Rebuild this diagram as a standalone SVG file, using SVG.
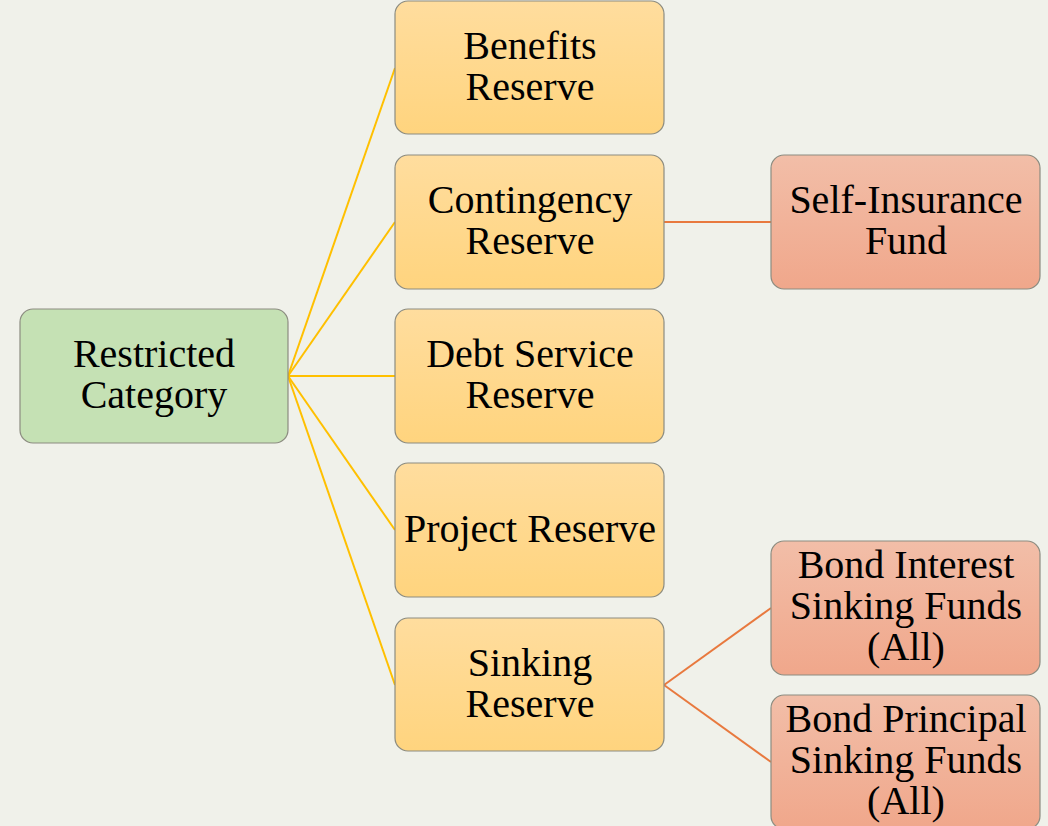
<svg xmlns="http://www.w3.org/2000/svg" width="1048" height="826" viewBox="0 0 1048 826">
<defs>
<linearGradient id="gOr" x1="0" y1="0" x2="0" y2="1"><stop offset="0" stop-color="#FFDD9E"/><stop offset="1" stop-color="#FFD47E"/></linearGradient>
<linearGradient id="gRd" x1="0" y1="0" x2="0" y2="1"><stop offset="0" stop-color="#F2BEA8"/><stop offset="1" stop-color="#F0A78B"/></linearGradient>
<style>
.box{stroke:#8C8C80;stroke-width:1.2}
.gr{fill:#C5E1B4}
.or{fill:url(#gOr)}
.rd{fill:url(#gRd)}
.t{font-size:40px;fill:#000;text-anchor:middle}
.cy{stroke:#FFC000;stroke-width:2;fill:none}
.co{stroke:#E8793E;stroke-width:2;fill:none}
</style>
</defs>
<rect width="1048" height="826" fill="#F0F1EA"/>
<g id="connectors">
<line class="cy" x1="288" y1="376" x2="395" y2="68"/>
<line class="cy" x1="288" y1="376" x2="395" y2="222"/>
<line class="cy" x1="288" y1="376" x2="395" y2="376"/>
<line class="cy" x1="288" y1="376" x2="395" y2="530"/>
<line class="cy" x1="288" y1="376" x2="395" y2="685"/>
<line class="co" x1="664" y1="222" x2="771" y2="222"/>
<line class="co" x1="664" y1="685" x2="771" y2="608"/>
<line class="co" x1="664" y1="685" x2="771" y2="762"/>
</g>
<g class="t" font-family="'Liberation Serif', 'Times New Roman', 'DejaVu Serif', serif">
<g id="restricted">
<rect class="box gr" x="20" y="309" width="268" height="134" rx="13"/>
<text x="154" y="367">Restricted</text><text x="154" y="408">Category</text>
</g>
<g id="benefits">
<rect class="box or" x="395" y="1" width="269" height="133" rx="13"/>
<text x="530" y="59">Benefits</text><text x="530" y="100">Reserve</text>
</g>
<g id="contingency">
<rect class="box or" x="395" y="155" width="269" height="134" rx="13"/>
<text x="530" y="213">Contingency</text><text x="530" y="254">Reserve</text>
</g>
<g id="debt">
<rect class="box or" x="395" y="309" width="269" height="134" rx="13"/>
<text x="530" y="367">Debt Service</text><text x="530" y="408">Reserve</text>
</g>
<g id="project">
<rect class="box or" x="395" y="463" width="269" height="134" rx="13"/>
<text x="530" y="542">Project Reserve</text>
</g>
<g id="sinking">
<rect class="box or" x="395" y="618" width="269" height="133" rx="13"/>
<text x="530" y="676">Sinking</text><text x="530" y="717">Reserve</text>
</g>
<g id="selfins">
<rect class="box rd" x="771" y="155" width="269" height="134" rx="13"/>
<text x="906" y="213">Self-Insurance</text><text x="906" y="254">Fund</text>
</g>
<g id="bondint">
<rect class="box rd" x="771" y="541" width="269" height="134" rx="13"/>
<text x="906" y="578">Bond Interest</text><text x="906" y="619">Sinking Funds</text><text x="906" y="660">(All)</text>
</g>
<g id="bondprin">
<rect class="box rd" x="771" y="695" width="269" height="134" rx="13"/>
<text x="906" y="732">Bond Principal</text><text x="906" y="773">Sinking Funds</text><text x="906" y="814">(All)</text>
</g>
</g>
</svg>
